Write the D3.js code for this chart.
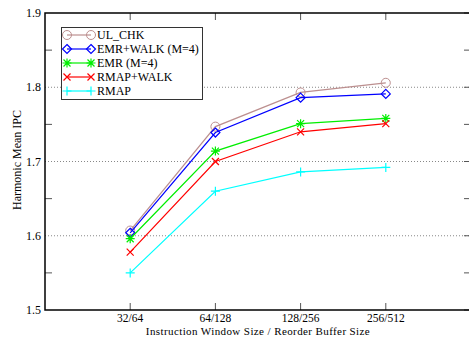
<!DOCTYPE html>
<html>
<head>
<meta charset="utf-8">
<script src="https://cdn.jsdelivr.net/npm/d3@7"></script>
<style>
  body { margin: 0; background: #fff; }
  text { font-family: "Liberation Serif", "DejaVu Serif", serif; }
</style>
</head>
<body>
<div id="chart"></div>
<script>
// data
const categories = ['32/64', '64/128', '128/256', '256/512'];
const seriesNames = ['UL_CHK', 'EMR+WALK (M=4)', 'EMR (M=4)', 'RMAP+WALK', 'RMAP'];
const ulChk    = [1.607, 1.747, 1.793, 1.806];
const emrWalk  = [1.604, 1.739, 1.786, 1.791];
const emr      = [1.596, 1.714, 1.751, 1.758];
const rmapWalk = [1.578, 1.700, 1.740, 1.751];
const rmap     = [1.550, 1.660, 1.686, 1.692];
const yTicks = [1.5, 1.6, 1.7, 1.8, 1.9];
const yMinor = [1.55, 1.65, 1.75, 1.85];

const colors  = ['#bc8f8f', '#0000ff', '#00ee00', '#ff0000', '#00ffff'];
const markers = ['circle', 'diamond', 'star', 'x', 'plus'];
const allSeries = [ulChk, emrWalk, emr, rmapWalk, rmap];

const width = 469, height = 337;
const margin = { left: 45, top: 13, right: -2, bottom: 27 };
const serif = '"Liberation Serif", "Times New Roman", serif';

const svg = d3.select('#chart').append('svg')
    .attr('width', width)
    .attr('height', height)
    .attr('font-family', serif);

const x = d3.scaleLinear().domain([0, categories.length + 1])
    .range([margin.left, width - margin.right]);
const y = d3.scaleLinear().domain([1.5, 1.9])
    .range([height - margin.bottom, margin.top]);

// grid lines (dotted) at interior majors
svg.append('g').selectAll('line')
    .data(yTicks.slice(1, -1))
    .enter().append('line')
    .attr('x1', x(0)).attr('x2', x(5))
    .attr('y1', d => y(d)).attr('y2', d => y(d))
    .attr('stroke', '#888')
    .attr('stroke-width', 1)
    .attr('stroke-dasharray', '1,2');

// inner ticks
const tickLen = 7;
const ticks = svg.append('g').attr('stroke', '#555').attr('stroke-width', 1);
yMinor.concat(yTicks).forEach(v => {
    if (yMinor.includes(v)) {
        ticks.append('line').attr('x1', x(0)).attr('x2', x(0) + tickLen)
            .attr('y1', y(v)).attr('y2', y(v));
    }
    ticks.append('line').attr('x1', x(5)).attr('x2', x(5) - tickLen)
        .attr('y1', y(v)).attr('y2', y(v));
});
categories.forEach((c, i) => {
    ticks.append('line').attr('x1', x(i + 1)).attr('x2', x(i + 1))
        .attr('y1', y(1.5)).attr('y2', y(1.5) - tickLen);
    ticks.append('line').attr('x1', x(i + 1)).attr('x2', x(i + 1))
        .attr('y1', y(1.9)).attr('y2', y(1.9) + tickLen);
});

// frame
svg.append('rect')
    .attr('x', x(0)).attr('y', y(1.9))
    .attr('width', x(5) - x(0)).attr('height', y(1.5) - y(1.9))
    .attr('fill', 'none')
    .attr('stroke', '#000')
    .attr('stroke-width', 1.5);

// tick labels
svg.append('g').selectAll('text')
    .data(yTicks)
    .enter().append('text')
    .attr('x', x(0) - 4)
    .attr('y', d => y(d))
    .attr('dy', '0.35em')
    .attr('text-anchor', 'end')
    .attr('font-family', serif)
    .attr('font-size', 12)
    .text(d => d.toFixed(1));

svg.append('g').selectAll('text')
    .data(categories)
    .enter().append('text')
    .attr('x', (d, i) => x(i + 1))
    .attr('y', y(1.5) + 12)
    .attr('text-anchor', 'middle')
    .attr('font-family', serif)
    .attr('font-size', 11.5)
    .text(d => d);

// axis titles
svg.append('text')
    .attr('x', 258).attr('y', 334.5)
    .attr('text-anchor', 'middle')
    .attr('font-family', serif)
    .attr('font-size', 11)
    .attr('letter-spacing', 0.4)
    .text('Instruction Window Size / Reorder Buffer Size');

svg.append('text')
    .attr('transform', 'translate(21,160) rotate(-90)')
    .attr('text-anchor', 'middle')
    .attr('font-family', serif)
    .attr('font-size', 12)
    .text('Harmonic Mean IPC');

// marker drawing
function drawMarker(g, type, cx, cy, color) {
    const s = 4.5;
    if (type === 'circle') {
        g.append('circle').attr('cx', cx).attr('cy', cy).attr('r', s)
            .attr('fill', 'none').attr('stroke', color);
    } else if (type === 'diamond') {
        g.append('path')
            .attr('d', `M${cx},${cy - s}L${cx + s},${cy}L${cx},${cy + s}L${cx - s},${cy}Z`)
            .attr('fill', 'none').attr('stroke', color).attr('stroke-width', 1.2);
    } else if (type === 'x') {
        const k = 3.5;
        g.append('path')
            .attr('d', `M${cx - k},${cy - k}L${cx + k},${cy + k}M${cx - k},${cy + k}L${cx + k},${cy - k}`)
            .attr('stroke', color).attr('stroke-width', 1.2);
    } else if (type === 'plus') {
        g.append('path')
            .attr('d', `M${cx - s},${cy}L${cx + s},${cy}M${cx},${cy - s}L${cx},${cy + s}`)
            .attr('stroke', color).attr('stroke-width', 1.2);
    } else if (type === 'star') {
        const k = 3.5;
        g.append('path')
            .attr('d', `M${cx - s},${cy}L${cx + s},${cy}M${cx},${cy - s}L${cx},${cy + s}` +
                `M${cx - k},${cy - k}L${cx + k},${cy + k}M${cx - k},${cy + k}L${cx + k},${cy - k}`)
            .attr('stroke', color).attr('stroke-width', 1.2);
    }
}

// series lines
const line = d3.line()
    .x((d, i) => x(i + 1))
    .y(d => y(d));

allSeries.forEach((vals, si) => {
    const g = svg.append('g');
    g.append('path')
        .datum(vals)
        .attr('d', line)
        .attr('fill', 'none')
        .attr('stroke', colors[si])
        .attr('stroke-width', 1.2);
    vals.forEach((v, i) => drawMarker(g, markers[si], x(i + 1), y(v), colors[si]));
});

// legend
const legend = svg.append('g');
legend.append('rect')
    .attr('x', 61.5).attr('y', 27.5)
    .attr('width', 141).attr('height', 72)
    .attr('fill', '#fff')
    .attr('stroke', '#333')
    .attr('stroke-width', 1);

seriesNames.forEach((name, i) => {
    const ly = 35 + i * 14;
    legend.append('line')
        .attr('x1', 67).attr('x2', 91)
        .attr('y1', ly).attr('y2', ly)
        .attr('stroke', colors[i]).attr('stroke-width', 1.2);
    drawMarker(legend, markers[i], 67, ly, colors[i]);
    drawMarker(legend, markers[i], 91, ly, colors[i]);
    legend.append('text')
        .attr('x', 97).attr('y', ly)
        .attr('dy', '0.35em')
        .attr('font-family', serif)
        .attr('font-size', 12)
        .text(name);
});
</script>
</body>
</html>
